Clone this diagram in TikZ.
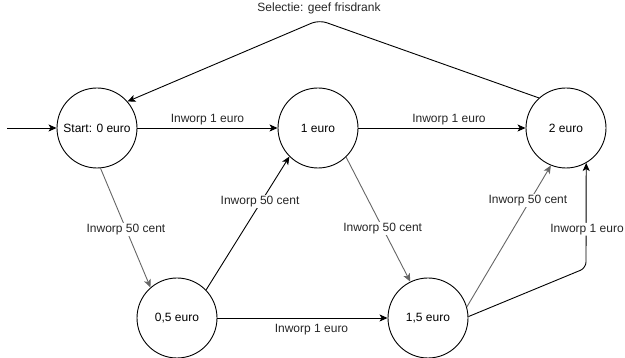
\documentclass[tikz,border=0pt]{standalone}
\usepackage{fontspec}
\setmainfont{Liberation Sans}
\usetikzlibrary{arrows.meta}
\begin{document}
\begin{tikzpicture}[x=1pt,y=-1pt,
  state/.style={circle,draw,line width=0.9pt,minimum size=80pt,inner sep=0pt,font=\fontsize{12}{14}\selectfont},
  edge/.style={line width=0.9pt,-{Stealth[length=8pt,width=7pt,inset=2pt]}},
  grayedge/.style={edge,draw=black!60},
  lbl/.style={font=\fontsize{12}{14}\selectfont,text=black!85,inner sep=1pt},
  wlbl/.style={lbl,fill=white}]
\useasboundingbox (0,0) rectangle (625,358);
\node[state] (s0) at (97,128) {Start: 0 euro};
\node[state] (s1) at (318,128) {1 euro};
\node[state] (s2) at (566,128) {2 euro};
\node[state] (s05) at (177,318) {0,5 euro};
\node[state] (s15) at (428,318) {1,5 euro};
\coordinate (init) at (7,128);
\coordinate (top) at (319,20);
\coordinate (corner) at (586,268);
\draw[edge] (init) -- (s0);
\draw[edge] (s0) -- node[lbl,above=2pt] {Inworp 1 euro} (s1);
\draw[edge] (s1) -- node[lbl,above=2pt,xshift=7pt] {Inworp 1 euro} (s2);
\draw[edge] (s05) -- node[lbl,below=5pt,xshift=9pt] {Inworp 1 euro} (s15);
\draw[grayedge] (s0.-85) -- node[wlbl,pos=0.51] {Inworp 50 cent} (s05.131);
\draw[edge] (s05.44) -- node[wlbl,pos=0.66,xshift=-1pt] {Inworp 50 cent} (s1.225);
\draw[grayedge] (s1.-46) -- node[wlbl,pos=0.57] {Inworp 50 cent} (s15.116);
\draw[grayedge] (s15.16) -- node[wlbl,pos=0.75,xshift=-2pt] {Inworp 50 cent} (s2.248);
\draw[edge,rounded corners=6pt] (s15.2) -- (corner) -- node[wlbl,pos=0.37,xshift=1pt] {Inworp 1 euro} (s2.-60);
\draw[edge,rounded corners=8pt] (s2.132) -- (top) node[lbl,above=5pt] {Selectie: geef frisdrank} -- (s0.41);
\end{tikzpicture}
\end{document}
